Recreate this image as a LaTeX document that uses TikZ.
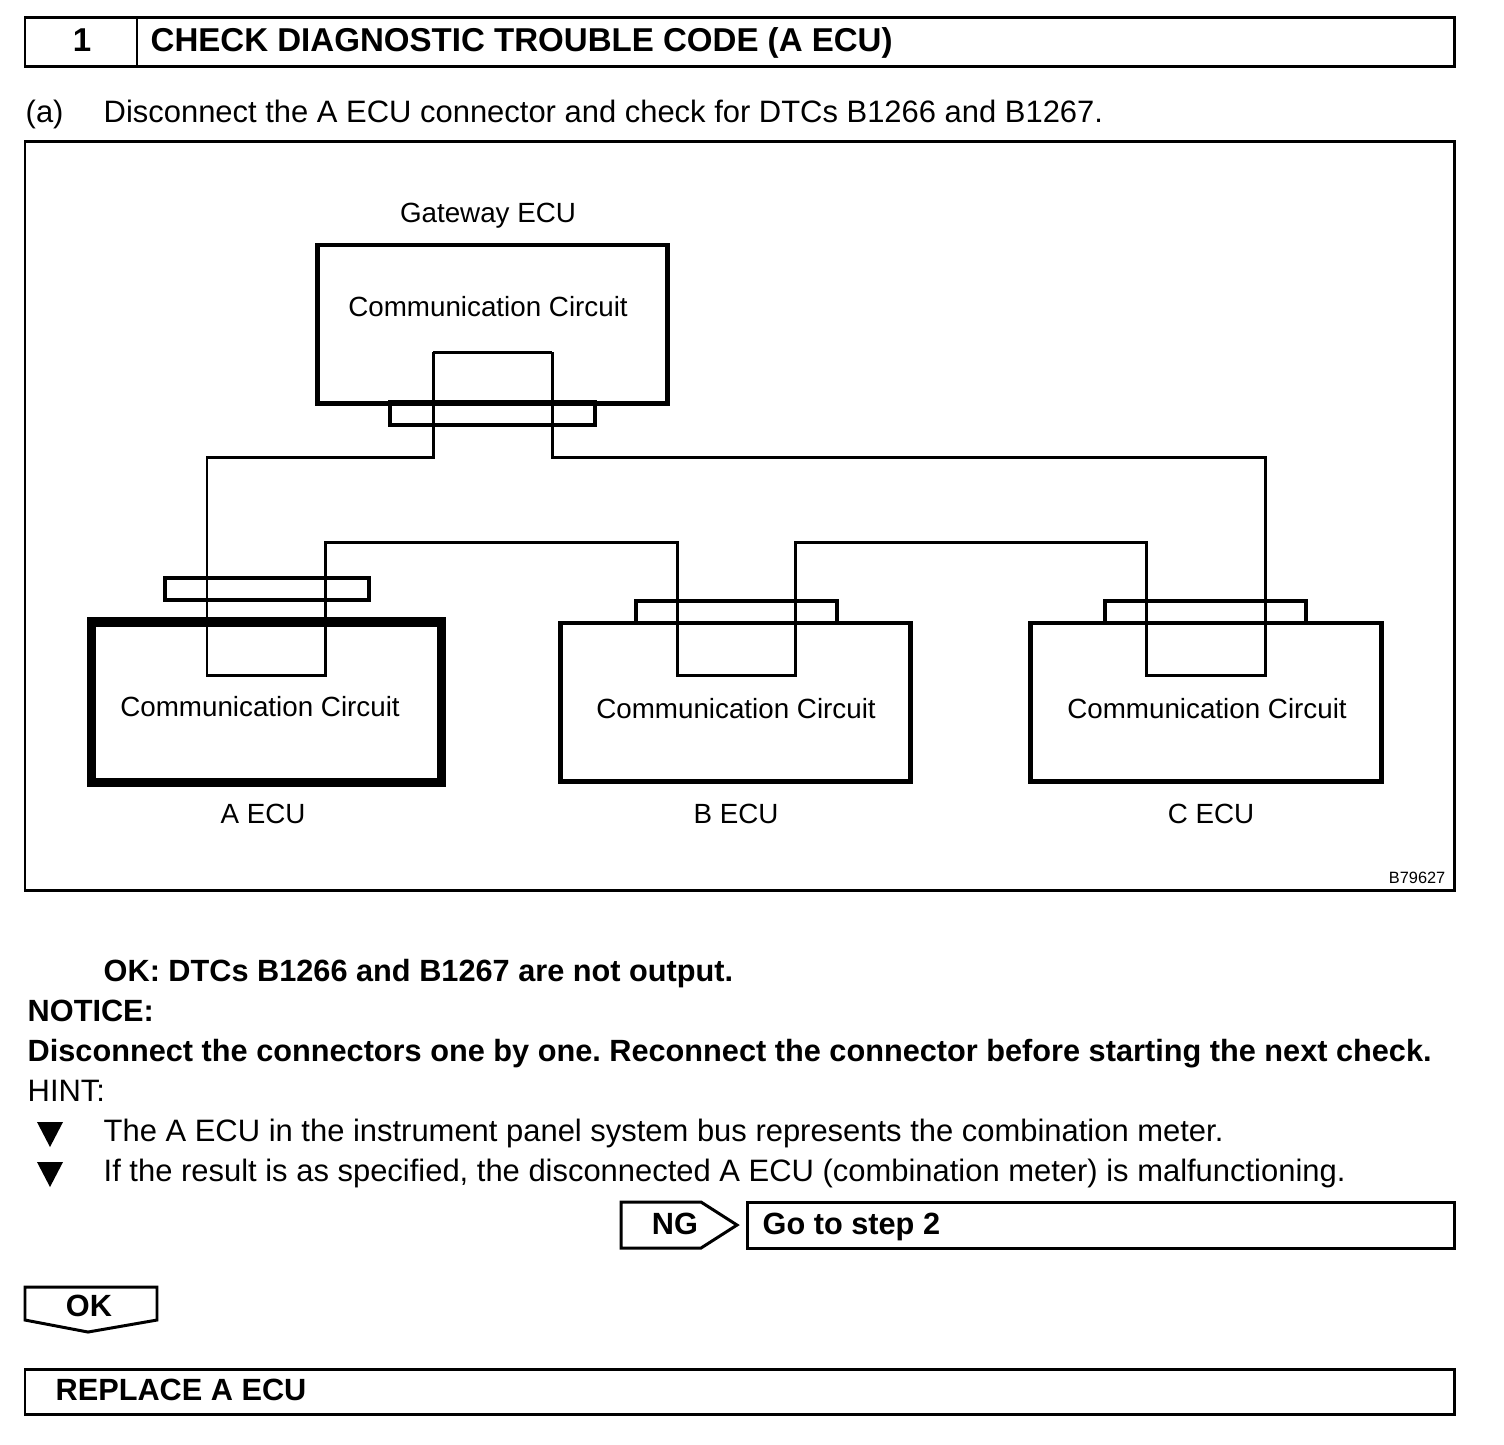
\documentclass[tikz,border=0pt]{standalone}
\usepackage{fontspec}
\setmainfont{Liberation Sans}
\usetikzlibrary{positioning}
\frenchspacing
\begin{document}
\begin{tikzpicture}[x=0.01cm,y=-0.01cm,
	frame/.style={draw,line width=0.85pt},
	ecubox/.style={draw,line width=1.4pt,minimum width=3.5cm,minimum height=1.58cm,inner sep=0pt},
	plug/.style={draw,line width=1.2pt},
	wire/.style={draw,line width=0.85pt},
	txt/.style={inner sep=0pt,text height=0.716em,text depth=0pt,yshift=0.75pt},
	dia/.style={txt,font=\fontsize{7.9}{9}\selectfont},
	body/.style={txt,font=\fontsize{8.8}{10}\selectfont,anchor=west},
	bbody/.style={txt,font=\fontsize{8.73}{10}\selectfont\bfseries,anchor=west}]
		\useasboundingbox (0,0) rectangle (1504,1444);
		% title
		\draw[frame] (25,17) rectangle (1454,66);
		\draw[frame] (137,17) -- (137,66);
		\node[txt,font=\fontsize{9.4}{11}\selectfont\bfseries] (num) at (82,42) {1};
		\node[txt,font=\fontsize{9.4}{11}\selectfont\bfseries,anchor=west] (title) at (150,42) {CHECK DIAGNOSTIC TROUBLE CODE (A ECU)};
		\node[body] (stepa) at (25,113) {(a)};
		\node[body] (stepatxt) at (103,113) {Disconnect the A ECU connector and check for DTCs B1266 and B1267.};
		
		% figure frame
		\draw[frame] (25,141) rectangle (1454,890);
		\node[txt,font=\fontsize{4.65}{5}\selectfont,anchor=east] (figno) at (1446,874) {B79627};
		
		% ecus
		\node[ecubox] (gw) at (492.5,324) {};
		\node[ecubox,line width=2.6pt,minimum width=3.49cm,minimum height=1.6cm] (aecu) at (266.5,702) {};
		\node[ecubox] (becu) at (735.5,702) {};
		\node[ecubox] (cecu) at (1206,702) {};
		\node[dia] (gwname) at (488,213) {Gateway ECU};
		\node[dia] (gwtxt) at (488,307) {Communication Circuit};
		\node[dia] (atxt) at (260,707) {Communication Circuit};
		\node[dia] (btxt) at (736,709) {Communication Circuit};
		\node[dia] (ctxt) at (1207,709) {Communication Circuit};
		\foreach \n/\x in {A/263,B/736,C/1211}
			\node[dia] (\n name) at (\x,814) {\n{} ECU};
		
		% connectors
		\draw[plug] (390,402) rectangle (595,425);
		\draw[plug] (165,578) rectangle (369,600);
		\draw[plug] (636,601) rectangle (837,623);
		\draw[plug] (1105,601) rectangle (1306,623);
		
		% bus wires
		\coordinate (gwl) at (433,352);
		\coordinate (gwr) at (552,352);
		\draw[wire] (gwl) -- (gwr);
		\draw[wire] (gwl) -- (433,457) -- (207,457) -- (207,675) -- (325,675) -- (325,542) -- (677,542) -- (677,675) -- (795,675) -- (795,542) -- (1146,542) -- (1146,675) -- (1265,675) -- (1265,457) -- (552,457) -- (gwr);
		
		% notes
		\node[bbody] (ok) at (103,972) {OK: DTCs B1266 and B1267 are not output.};
		\node[bbody] (notice) at (27,1012) {NOTICE:};
		\node[bbody] (noticetxt) at (27,1052) {Disconnect the connectors one by one. Reconnect the connector before starting the next check.};
		\node[body] (hint) at (27,1092) {HINT:};
		\foreach \y in {1132,1172}
			\fill (37,\y-10) -- (63,\y-10) -- (50,\y+15) -- cycle;
		\node[body] (hint1) at (103,1132) {The A ECU in the instrument panel system bus represents the combination meter.};
		\node[body] (hint2) at (103,1172) {If the result is as specified, the disconnected A ECU (combination meter) is malfunctioning.};
		
		% result boxes
		\draw[frame] (621,1202) -- (701,1202) -- (737,1225) -- (701,1248) -- (621,1248) -- cycle;
		\node[txt,font=\fontsize{8.73}{10}\selectfont\bfseries] (ng) at (675,1225) {NG};
		\draw[frame] (747,1202) rectangle (1454,1248);
		\node[bbody] (ngtxt) at (762,1225) {Go to step 2};
		\draw[frame] (25,1287) -- (157,1287) -- (157,1320) -- (88,1332) -- (25,1320) -- cycle;
		\node[txt,font=\fontsize{8.73}{10}\selectfont\bfseries] (okarrow) at (89,1307) {OK};
		\draw[frame] (25,1369) rectangle (1454,1414);
		\node[bbody] (replace) at (55,1391) {REPLACE A ECU};
\end{tikzpicture}
\end{document}
